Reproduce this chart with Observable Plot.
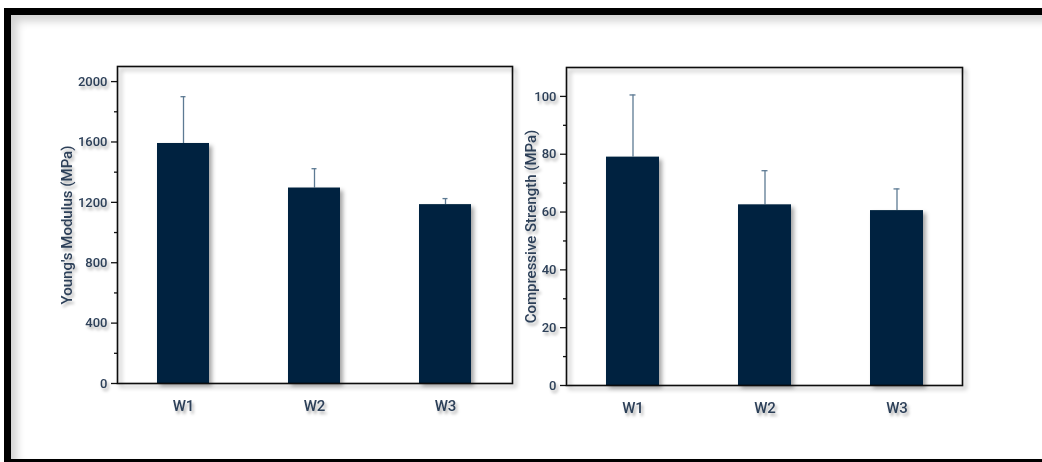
<!DOCTYPE html>
<html>
<head>
<meta charset="utf-8">
<script src="https://cdn.jsdelivr.net/npm/d3@7"></script>
<script src="https://cdn.jsdelivr.net/npm/@observablehq/plot@0.6"></script>
<style>
  html, body { margin: 0; padding: 0; background: #fff; }
  body { width: 1042px; height: 462px; position: relative; overflow: hidden; font-family: Roboto, "DejaVu Sans", sans-serif; }
  #frame {
    position: absolute; left: 4px; top: 8px; width: 1060px; height: 444px;
    border-left: 7px solid #000; border-top: 7px solid #000; border-bottom: 3px solid #000;
    box-shadow: inset 6px 6px 8px rgba(0,0,0,0.18);
  }
  .panel { position: absolute; top: 0; }
  #left { left: 0; }
  #right { left: 521px; }
</style>
</head>
<body>
<div id="frame"></div>
<div id="left" class="panel"></div>
<div id="right" class="panel"></div>
<script>
const groups = ["W1", "W2", "W3"];
const modulus = [1590, 1295, 1185];
const modulusErr = [310, 128, 40];
const strength = [79, 62.5, 60.5];
const strengthErr = [21.5, 11.8, 7.5];
const modulusTicks = [0, 400, 800, 1200, 1600, 2000];
const modulusMinor = [200, 600, 1000, 1400, 1800];
const strengthTicks = [0, 20, 40, 60, 80, 100];
const strengthMinor = [10, 30, 50, 70, 90];

const barColor = "#02243f";
const errColor = "#5d7a93";
const textColor = "#2d4059";

function makePanel(values, errs, yDomain, ticks, minor, label, m, labelOffset) {
  const data = groups.map((g, i) => ({group: g, value: values[i], top: values[i] + errs[i]}));
  const width = 521, height = 462;
  const plot = Plot.plot({
    width, height,
    marginLeft: m.left, marginRight: m.right, marginTop: m.top, marginBottom: m.bottom,
    style: {fontFamily: "Roboto, sans-serif", color: textColor, background: "transparent", overflow: "visible"},
    x: {domain: groups, paddingInner: 0.6, paddingOuter: 0.3},
    y: {domain: yDomain},
    marks: [
      Plot.ruleX(data, {x: "group", y1: "value", y2: "top", stroke: errColor, strokeWidth: 1.3}),
      Plot.tickY(data, {x: "group", y: "top", stroke: errColor, strokeWidth: 1.3, insetLeft: 23.5, insetRight: 23.5}),
      Plot.barY(data, {x: "group", y: "value", fill: barColor}),
      Plot.axisY({ticks, tickFormat: "d", tickSize: 6, tickPadding: 4, fontSize: 13, fontWeight: 500, stroke: "#111", strokeWidth: 1.3, label: null, fill: textColor}),
      Plot.axisY({ticks: minor, tickSize: 3, text: null, stroke: "#111", strokeWidth: 1.3, label: null}),
      Plot.axisY({ticks: [], label, labelAnchor: "center", labelArrow: "none", labelOffset, fontSize: 15, fontWeight: 500, fill: textColor, style: {letterSpacing: "0.3px"}}),
      Plot.axisX({tickSize: 0, tickPadding: 17, fontSize: 15, fontWeight: 500, label: null, fill: textColor}),
      Plot.frame({stroke: "#111", strokeWidth: 1.6})
    ]
  });
  const svg = d3.select(plot);
  const id = "sh" + Math.random().toString(36).slice(2, 7);
  const defs = svg.insert("defs", ":first-child");
  const f = defs.append("filter").attr("id", id).attr("x", "-20%").attr("y", "-20%").attr("width", "160%").attr("height", "160%");
  f.append("feDropShadow").attr("dx", 3).attr("dy", 3).attr("stdDeviation", 2).attr("flood-color", "#000").attr("flood-opacity", 0.35);
  const id2 = id + "t";
  const f2 = defs.append("filter").attr("id", id2).attr("x", "-30%").attr("y", "-50%").attr("width", "160%").attr("height", "220%");
  f2.append("feDropShadow").attr("dx", 2).attr("dy", 3).attr("stdDeviation", 1.6).attr("flood-color", "#000").attr("flood-opacity", 0.3);
  svg.selectAll("g[aria-label='bar']").attr("filter", `url(#${id})`);
  svg.selectAll("g[aria-label='frame'], rect[aria-label='frame']").attr("filter", `url(#${id})`);
  svg.selectAll("g[aria-label='y-axis tick label'], g[aria-label='x-axis tick label'], g[aria-label='y-axis label']").attr("filter", `url(#${id2})`);
  return plot;
}

document.getElementById("left").appendChild(
  makePanel(modulus, modulusErr, [0, 2100], modulusTicks, modulusMinor, "Young's Modulus (MPa)",
    {left: 117, right: 9, top: 66, bottom: 79}, 56)
);
document.getElementById("right").appendChild(
  makePanel(strength, strengthErr, [0, 110], strengthTicks, strengthMinor, "Compressive Strength (MPa)",
    {left: 45, right: 80, top: 67, bottom: 77}, 41)
);
</script>
</body>
</html>
